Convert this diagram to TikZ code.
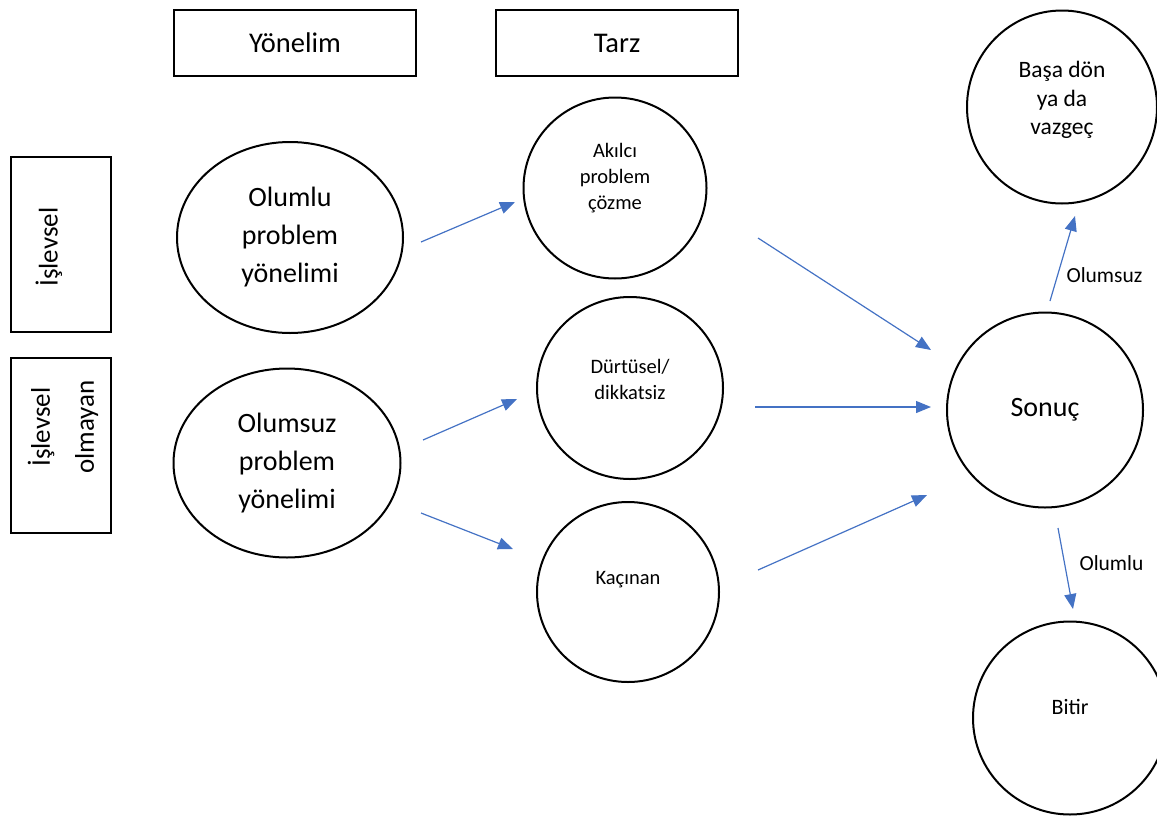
\documentclass[tikz,border=0pt]{standalone}
\usepackage{fontspec}
\setmainfont{Carlito}
\usetikzlibrary{shapes.geometric,arrows.meta}
\definecolor{flowblue}{HTML}{4472C4}
\tikzset{
  hbox/.style={draw, line width=2pt, minimum width=242pt, minimum height=66pt, inner sep=0pt, font=\fontsize{28.5}{34}\selectfont},
  sidebox/.style={draw, line width=2pt, minimum width=100pt, minimum height=175pt, inner sep=0pt},
  oval/.style={draw, ellipse, line width=2pt, inner sep=0pt},
  bigtxt/.style={align=center, font=\fontsize{28}{38}\selectfont},
  sidetxt/.style={align=center, rotate=90, font=\fontsize{27}{44}\selectfont},
  smalltxt/.style={align=center, font=\fontsize{20.5}{26}\selectfont},
  flow/.style={draw=flowblue, line width=1.2pt, -{Triangle[length=15pt,width=12pt]}}
}
\begin{document}
\begin{tikzpicture}[x=1pt,y=-1pt]
\useasboundingbox (0,0) rectangle (1157,817);
% headings
\node[hbox] (yon) at (295,43) {Yönelim};
\node[hbox] (tarz) at (617,43) {Tarz};
\node[sidebox] (func) at (61,244.5) {};
\node[sidetxt] (func-t) at (49,247) {İşlevsel};
\node[sidebox] (nonfunc) at (61,445.5) {};
\node[sidetxt] (nonfunc-t) at (63,427) {İşlevsel\\olmayan};
% orientation
\node[oval, minimum width=226pt, minimum height=191pt, bigtxt] (olumlu) at (290,237.5) {Olumlu\\problem\\yönelimi};
\node[oval, minimum width=227pt, minimum height=189pt, bigtxt] (olumsuz) at (287,463) {Olumsuz\\problem\\yönelimi};
% style
\node[oval, minimum width=183pt, minimum height=181pt] (akilci) at (615,188) {};
\node[smalltxt] (akilci-t) at (615,178) {Akılcı\\problem\\çözme};
\node[oval, minimum width=186pt, minimum height=182pt] (durtu) at (630,388) {};
\node[smalltxt] (durtu-t) at (630,379) {Dürtüsel/\\dikkatsiz};
\node[oval, minimum width=182pt, minimum height=180pt] (kacinan) at (628,592) {};
\node[smalltxt] (kacinan-t) at (628,580) {Kaçınan};
% outcome
\node[oval, minimum width=196pt, minimum height=195pt, font=\fontsize{28}{33}\selectfont] (sonuc) at (1045,410) {Sonuç};
\node[oval, minimum width=190pt, minimum height=193pt] (basa) at (1062,107) {};
\node[align=center, font=\fontsize{23.5}{28.5}\selectfont] (basa-t) at (1062,100) {Başa dön\\ya da\\vazgeç};
\node[oval, minimum width=194pt, minimum height=193pt] (bitir) at (1070,718) {};
\node[smalltxt, font=\fontsize{22}{26}\selectfont] (bitir-t) at (1070,707) {Bitir};
% arrows
\draw[flow] ([shift={(17,4.5)}]olumlu.east) -- ([shift={(-7.5,14)}]akilci.west);
\draw[flow] ([shift={(21.5,-23)}]olumsuz.east) -- ([shift={(-19,11)}]durtu.west);
\draw[flow] ([shift={(19.5,50)}]olumsuz.east) -- ([shift={(-23,-43)}]kacinan.west);
\draw[flow] ([shift={(50.5,50)}]akilci.east) -- ([shift={(-15,-60)}]sonuc.west);
\draw[flow] ([shift={(31,19)}]durtu.east) -- ([shift={(-15,-3)}]sonuc.west);
\draw[flow] ([shift={(38,-22)}]kacinan.east) -- ([shift={(-19,85)}]sonuc.west);
\draw[flow] ([shift={(5,-10.5)}]sonuc.north) -- ([shift={(13,11.5)}]basa.south);
\draw[flow] ([shift={(13,19.5)}]sonuc.south) -- ([shift={(3,-11.5)}]bitir.north);
\node[smalltxt, font=\fontsize{21.5}{26}\selectfont, anchor=west] (neg) at (1063,275) {Olumsuz};
\node[smalltxt, font=\fontsize{21.5}{26}\selectfont, anchor=west] (pos) at (1076,563) {Olumlu};
\end{tikzpicture}
\end{document}
